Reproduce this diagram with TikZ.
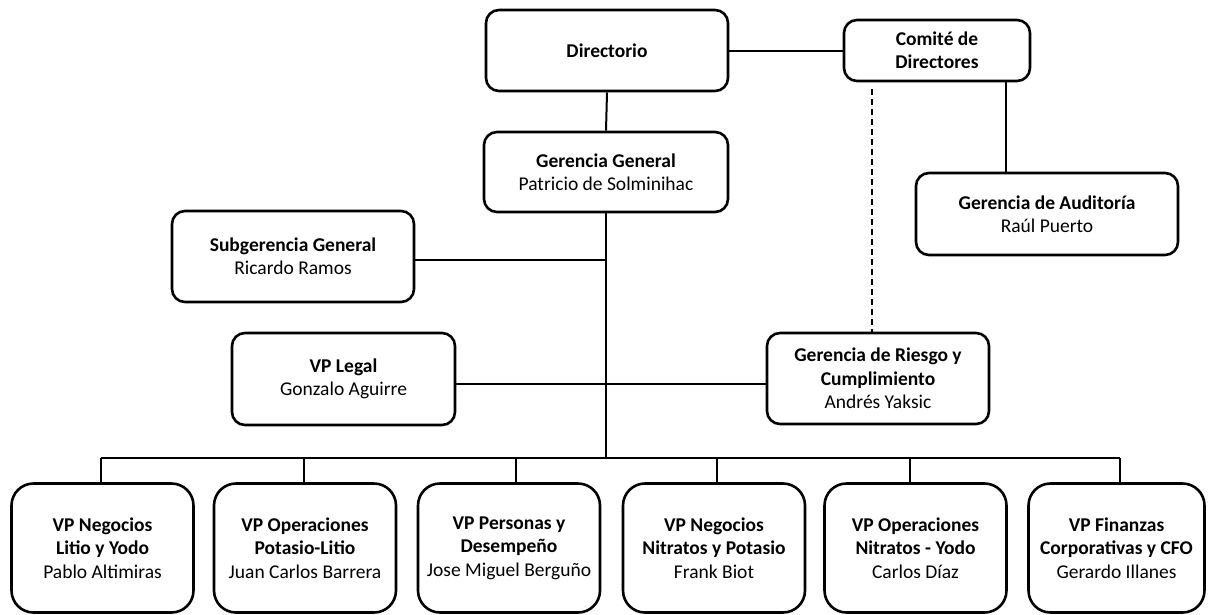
\documentclass[tikz,border=0pt]{standalone}
\usepackage{fontspec}
\setmainfont{Carlito}
\begin{document}
\begin{tikzpicture}[x=1pt,y=-1pt,
  box/.style={draw=black,line width=2.6pt,rounded corners=13pt,fill=white,
    align=center,inner sep=0pt,font=\fontsize{19.5}{23.4}\selectfont},
  vpbox/.style={box,rounded corners=22pt,minimum width=182pt,minimum height=129pt},
  link/.style={draw=black,line width=2pt},
  dotlink/.style={draw=black,line width=1.6pt,dash pattern=on 6pt off 4pt}]
\useasboundingbox (0,0) rectangle (1212,614);

% top boxes
\node[box,minimum width=242pt,minimum height=81pt] (dir) at (607,50.5) {\textbf{Directorio}};
\node[box,minimum width=186pt,minimum height=61pt] (com) at (937,50.5) {\textbf{Comité de}\\\textbf{Directores}};
\node[box,minimum width=244pt,minimum height=80pt] (gg) at (606,172) {\textbf{Gerencia General}\\Patricio de Solminihac};
\node[box,minimum width=262pt,minimum height=82pt] (aud) at (1047,214) {\textbf{Gerencia de Auditoría}\\Raúl Puerto};
\node[box,minimum width=242pt,minimum height=91pt] (sub) at (293,256.5) {\textbf{Subgerencia General}\\Ricardo Ramos};
\node[box,minimum width=223pt,minimum height=92pt] (leg) at (343.5,379) {\textbf{VP Legal}\\Gonzalo Aguirre};
\node[box,minimum width=222pt,minimum height=91pt] (rie) at (878,378.5) {\textbf{Gerencia de Riesgo y}\\\textbf{Cumplimiento}\\Andrés Yaksic};

% bottom boxes
\node[vpbox] (b1) at (102.5,548) {\textbf{VP Negocios}\\\textbf{Litio y Yodo}\\Pablo Altimiras};
\node[vpbox] (b2) at (305,548) {\textbf{VP Operaciones}\\\textbf{Potasio-Litio}\\Juan Carlos Barrera};
\node[vpbox] (b3) at (509,548) {\textbf{VP Personas y}\\\textbf{Desempeño}\\Jose Miguel Berguño};
\node[vpbox] (b4) at (714,548) {\textbf{VP Negocios}\\\textbf{Nitratos y Potasio}\\Frank Biot};
\node[vpbox] (b5) at (915.5,548) {\textbf{VP Operaciones}\\\textbf{Nitratos - Yodo}\\Carlos Díaz};
\node[vpbox,minimum width=176pt] (b6) at (1116.5,548) {\textbf{VP Finanzas}\\\textbf{Corporativas y CFO}\\Gerardo Illanes};

% connector helper coordinates
\coordinate (busmid) at (606,458);
\coordinate (busL) at (101,458);
\coordinate (busR) at (1120,458);

% connectors
\draw[link] (dir.east) -- (com.west);
\draw[link] (dir.south) -- (gg.north);
\draw[link] (gg.south) -- (busmid);
\draw[link] ([yshift=-3.5pt]sub.east) -- ([yshift=-3.5pt]sub.east -| busmid);
\draw[link] ([yshift=-5pt]leg.east) -- ([yshift=-5pt]leg.east -| rie.west);
\draw[link] (com.south -| 1006,0) -- (aud.north -| 1006,0);
\draw[dotlink] ([yshift=-7pt]com.south -| 872,0) -- (rie.north -| 872,0);
\draw[link] (busL) -- (busR);
\draw[link] (busL) -- (b1.north -| busL);
\draw[link] (busL -| 304,0) -- (b2.north -| 304,0);
\draw[link] (busL -| 516,0) -- (b3.north -| 516,0);
\draw[link] (busL -| 717,0) -- (b4.north -| 717,0);
\draw[link] (busL -| 910,0) -- (b5.north -| 910,0);
\draw[link] (busR) -- (b6.north -| busR);
\end{tikzpicture}
\end{document}
